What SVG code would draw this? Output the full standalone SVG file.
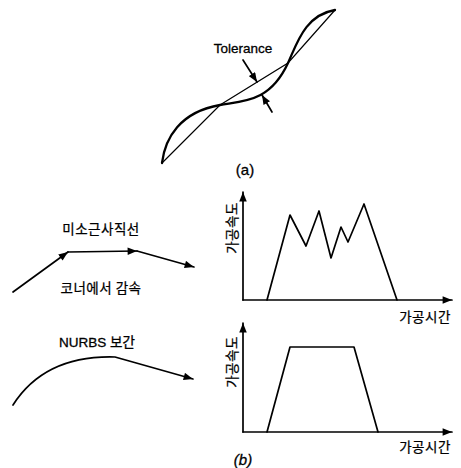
<svg xmlns="http://www.w3.org/2000/svg" width="461" height="468" viewBox="0 0 461 468">
<style>
.t{font-family:"Liberation Sans","Noto Sans CJK KR",sans-serif;fill:#000;stroke:#000;stroke-width:0.3}
.k{font-family:"Noto Sans CJK KR","Liberation Sans",sans-serif;fill:#000;font-size:13.5px;letter-spacing:0.5px;stroke:#000;stroke-width:0.25}
.ln{fill:none;stroke:#000;stroke-width:1.7;stroke-linejoin:round;stroke-linecap:round}
.thin{fill:none;stroke:#000;stroke-width:1.2}
.thick{fill:none;stroke:#000;stroke-width:2.3;stroke-linecap:round}
</style>
<defs>
<marker id="ah" viewBox="0 0 10 8" refX="10" refY="4" markerWidth="10" markerHeight="7.5" markerUnits="userSpaceOnUse" orient="auto"><path d="M0,0 L10,4 L0,8 z" fill="#000"/></marker>
</defs>
<rect width="461" height="468" fill="#fff"/>
<g id="partA">
<polyline class="thin" points="162,163 220,105 288,63 335,10"/>
<path class="thick" d="M162,163 C165,138 180,112 220,105 C244,100.8 270,102 288,63 C297,43.5 305,15 335,10"/>
<text class="t" x="243" y="53" font-size="13.5" text-anchor="middle">Tolerance</text>
<text class="t" x="245" y="175" font-size="15" text-anchor="middle">(a)</text>
</g>
<g id="labels">
<text class="k" x="101" y="234" text-anchor="middle">미소근사직선</text>
<text class="k" x="101" y="293" text-anchor="middle">코너에서 감속</text>
<text class="t" x="97" y="346.5" font-size="13.5" text-anchor="middle">NURBS 보간</text>
<text class="k" x="425" y="322" text-anchor="middle">가공시간</text>
<text class="k" x="425" y="452" text-anchor="middle">가공시간</text>
<text class="k" transform="translate(231,228) rotate(-90)" text-anchor="middle" dominant-baseline="central">가공속도</text>
<text class="k" transform="translate(231,362) rotate(-90)" text-anchor="middle" dominant-baseline="central">가공속도</text>
<text class="t" x="243" y="465" font-size="15" font-style="italic" text-anchor="middle">(b)</text>
</g>
<g id="chart1">
<polyline class="ln" points="267,300 290,215 306,246 319,211 331,258 341,227 348,242 364,204 397,300"/>
</g>
<g id="chart2">
<polyline class="ln" points="267,432 290,347 354,347 378,432"/>
</g>
<g id="connectors">
<line class="ln" x1="243" y1="60" x2="257" y2="82" marker-end="url(#ah)"/>
<line class="ln" x1="272" y1="112" x2="262" y2="95" marker-end="url(#ah)"/>
<line class="ln" x1="13" y1="292" x2="68" y2="252" marker-end="url(#ah)"/>
<line class="ln" x1="68" y1="252" x2="137" y2="251" marker-end="url(#ah)"/>
<line class="ln" x1="137" y1="251" x2="194" y2="267" marker-end="url(#ah)"/>
<path class="ln" d="M13,405 Q45,355 115,357 L193,379" marker-end="url(#ah)"/>
<line class="ln" x1="243" y1="300" x2="243" y2="192" marker-end="url(#ah)"/>
<line class="ln" x1="243" y1="300" x2="452" y2="300" marker-end="url(#ah)"/>
<line class="ln" x1="243" y1="432" x2="243" y2="323" marker-end="url(#ah)"/>
<line class="ln" x1="243" y1="432" x2="452" y2="432" marker-end="url(#ah)"/>
</g>
</svg>
